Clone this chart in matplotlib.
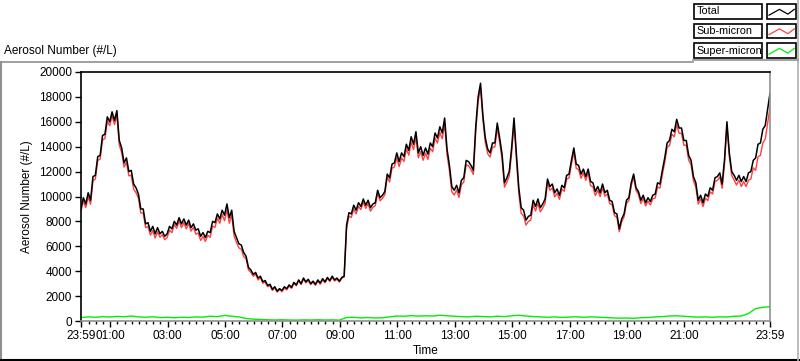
import numpy as np
import matplotlib
matplotlib.use("Agg")
import matplotlib.pyplot as plt
from matplotlib.patches import Rectangle

plt.rcParams['font.family'] = ['Liberation Sans', 'DejaVu Sans']

# Total aerosol number (#/L), one value every 5 minutes from 23:59 to 23:59
total = [
    9100, 9900, 9400, 10300, 9700, 11600, 11700, 13200, 13300, 14900, 15000, 16400,
    16000, 16800, 16100, 16900, 14500, 13900, 12700, 13100, 12000, 12100, 11000, 10700,
    10200, 9000, 9000, 7800, 7900, 7200, 7600, 7000, 7500, 7000, 7200, 6800,
    7000, 7600, 7400, 8000, 7700, 8300, 7800, 8200, 7700, 8100, 7500, 7800,
    7300, 7400, 6800, 7100, 6700, 7200, 7100, 8000, 7900, 8600, 8200, 8900,
    8500, 9400, 8300, 8900, 7200, 6700, 6200, 6100, 5500, 5200, 4300, 4100,
    3750, 3900, 3450, 3600, 3150, 3250, 2850, 2950, 2550, 2750, 2400, 2600,
    2450, 2750, 2600, 2900, 2700, 3100, 2900, 3300, 3000, 3450, 3150, 3350,
    3000, 3200, 2950, 3300, 3050, 3400, 3150, 3500, 3250, 3600, 3300, 3450,
    3200, 3500, 3600, 7700, 8700, 8600, 9300, 8900, 9500, 9200, 9800, 9300,
    9700, 9100, 9400, 9500, 10500, 9900, 10100, 10400, 11800, 11500, 12600, 12700,
    13500, 12800, 13500, 13200, 14200, 13700, 14800, 14200, 15200, 13500, 14000, 13300,
    13900, 13400, 14300, 14000, 15100, 14700, 15600, 15100, 16300, 13800, 12500, 10800,
    10500, 10900, 10300, 11300, 11500, 12900, 12800, 12500, 12100, 15600, 18000, 19100,
    16500, 14700, 13800, 13500, 14300, 14300, 15900, 14700, 13400, 11100, 11500, 12000,
    13900, 16300, 13400, 10700, 9100, 8900, 8100, 8400, 8500, 9700, 9200, 9800,
    9100, 9400, 9800, 11400, 10800, 11000, 10300, 10600, 10100, 10900, 10700, 11700,
    11800, 12900, 13900, 12600, 12500, 11800, 12200, 11600, 12200, 11200, 11100, 10400,
    10800, 10300, 11000, 10300, 10500, 9700, 9600, 8700, 8600, 7400, 8200, 8600,
    9700, 9900, 11100, 11800, 10700, 10400, 9700, 10100, 9500, 9900, 9600, 10100,
    10200, 11100, 11000, 12100, 13100, 14300, 14500, 15400, 15200, 16200, 15500, 15500,
    14500, 14500, 13300, 12900, 11600, 11100, 9700, 10100, 9500, 10200, 10000, 10700,
    10500, 11500, 11600, 11900, 11000, 13000, 16000, 13500, 12000, 11700, 11300, 11700,
    11200, 11600, 11200, 11900, 12000, 12900, 13100, 14200, 14300, 15400, 15700, 17000,
    18300,
]

# Super-micron number (#/L), one value every 15 minutes
super_micron = [
    280,
    330, 300, 350, 320,
    370, 340, 400, 330,
    300, 340, 270, 300,
    260, 300, 280, 330,
    310, 380, 350, 450,
    380, 330, 200, 150,
    120, 100, 80, 100,
    80, 70, 90, 80,
    100, 80, 90, 70,
    280, 300, 250, 280,
    240, 260, 330, 400,
    380, 430, 390, 420,
    400, 460, 420, 380,
    350, 330, 380, 360,
    330, 380, 350, 420,
    460, 400, 360, 330,
    300, 330, 290, 320,
    340, 300, 330, 310,
    280, 250, 230, 240,
    220, 260, 280, 330,
    350, 400, 420, 380,
    340, 310, 330, 300,
    340, 320, 380, 400,
    600, 1000, 1100, 1150,
]

tick_minutes = [0, 61, 181, 301, 421, 541, 661, 781, 901, 1021, 1141, 1261, 1440]
tick_labels = ['23:59', '01:00', '03:00', '05:00', '07:00', '09:00', '11:00',
               '13:00', '15:00', '17:00', '19:00', '21:00', '23:59']

total = np.array(total, dtype=float)
super_micron = np.array(super_micron, dtype=float)
t_total = np.arange(len(total)) * 5
t_super = np.arange(len(super_micron)) * 15
super_on_total = np.append(np.repeat(super_micron[:-1], 3), super_micron[-1])
sub_micron = total - super_on_total

fig = plt.figure(figsize=(8, 3.61), dpi=100)
ax = fig.add_axes([81 / 800, 1 - 321 / 361, 689 / 800, 249 / 361])

ax.plot(t_total, sub_micron, color='#ff4040', lw=1.0)
ax.plot(t_total, total, color='black', lw=1.1)
ax.plot(t_super, super_micron, color='#00ee00', lw=1.0)

ax.set_xlim(0, 1440)
ax.set_ylim(0, 20000)
ax.set_yticks(range(0, 20001, 2000))
ax.set_xticks(tick_minutes)
ax.set_xticklabels(tick_labels)
minor = [m for m in range(16, 1440, 15) if m not in tick_minutes]
ax.set_xticks(minor, minor=True)
ax.tick_params(axis='both', which='major', length=4.5, width=1, labelsize=8.5, pad=2, color='black')
ax.tick_params(axis='x', which='minor', length=2.5, width=1, color='black')
for side in ['top', 'left']:
    ax.spines[side].set_color('black')
    ax.spines[side].set_linewidth(1.2)
for side in ['bottom', 'right']:
    ax.spines[side].set_color('#909090')
    ax.spines[side].set_linewidth(1.2)
ax.set_ylabel('Aerosol Number (#/L)', fontsize=8.5, labelpad=4)
ax.set_xlabel('Time', fontsize=8.5, labelpad=2)

# overlay in pixel coordinates for frame, title and legend
ov = fig.add_axes([0, 0, 1, 1], zorder=10)
ov.set_xlim(0, 800)
ov.set_ylim(361, 0)
ov.axis('off')
ov.patch.set_alpha(0)

ov.plot([0.5, 693], [61.5, 61.5], color='#909090', lw=1.2)
ov.plot([0.8, 0.8], [61.5, 361], color='#909090', lw=1.5)
ov.plot([0, 800], [359.8, 359.8], color='black', lw=1.5)
ov.plot([798, 798], [0, 361], color='#b0b0b0', lw=1.2)
ov.plot([693, 798], [60, 60], color='#909090', lw=1.2)

ov.text(4, 51, 'Aerosol Number (#/L)', fontsize=8.5, va='center', ha='left')

legend_names = ['Total', 'Sub-micron', 'Super-micron']
legend_colors = ['black', '#ff4040', '#00ee00']
zig_x = [0.07, 0.43, 0.72, 0.94]
zig_y = [0.23, 0.63, 0.30, 0.63]
for i, (name, col) in enumerate(zip(legend_names, legend_colors)):
    top = 4 + i * 19.5
    ov.add_patch(Rectangle((694, top), 68, 14.5, facecolor='white', edgecolor='black', lw=1.2))
    ov.text(696.5, top + 7.5, name, fontsize=7.8, va='center', ha='left')
    ov.add_patch(Rectangle((767, top), 29, 14.5, facecolor='white', edgecolor='black', lw=1.2))
    ov.plot([767 + 29 * x for x in zig_x], [top + 14.5 * (1 - y) for y in zig_y], color=col, lw=0.9)

fig.savefig('out.png', dpi=100)
